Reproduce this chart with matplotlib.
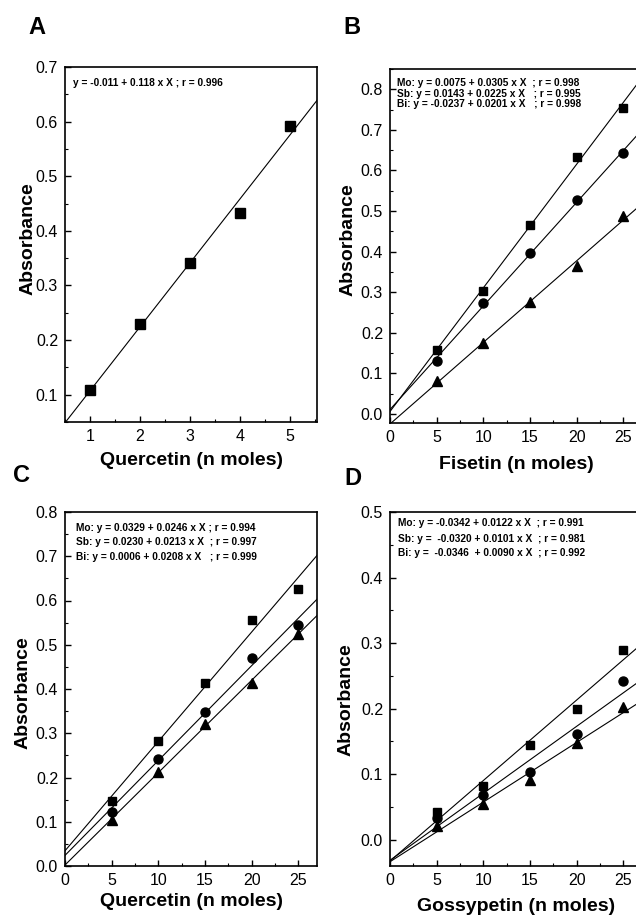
import numpy as np
import matplotlib
matplotlib.use("Agg")
import matplotlib.pyplot as plt
from matplotlib.ticker import MultipleLocator, AutoMinorLocator, FormatStrFormatter

plt.rcParams['font.family'] = ['Liberation Sans', 'DejaVu Sans']

# ---------------- data ----------------
xA = [1, 2, 3, 4, 5]
yA = [0.109, 0.229, 0.342, 0.432, 0.592]

x_nm = [5, 10, 15, 20, 25]
B_mo = [0.159, 0.303, 0.465, 0.634, 0.755]
B_sb = [0.131, 0.273, 0.397, 0.527, 0.642]
B_bi = [0.081, 0.174, 0.277, 0.365, 0.488]

C_mo = [0.146, 0.283, 0.413, 0.557, 0.627]
C_sb = [0.123, 0.242, 0.348, 0.470, 0.545]
C_bi = [0.104, 0.212, 0.322, 0.414, 0.525]

D_mo = [0.042, 0.082, 0.145, 0.200, 0.290]
D_sb = [0.033, 0.069, 0.104, 0.162, 0.242]
D_bi = [0.021, 0.054, 0.091, 0.147, 0.202]

eqA = ["y = -0.011 + 0.118 x X ; r = 0.996"]
eqB = ["Mo: y = 0.0075 + 0.0305 x X  ; r = 0.998",
       "Sb: y = 0.0143 + 0.0225 x X   ; r = 0.995",
       "Bi: y = -0.0237 + 0.0201 x X   ; r = 0.998"]
eqC = ["Mo: y = 0.0329 + 0.0246 x X ; r = 0.994",
       "Sb: y = 0.0230 + 0.0213 x X  ; r = 0.997",
       "Bi: y = 0.0006 + 0.0208 x X   ; r = 0.999"]
eqD = ["Mo: y = -0.0342 + 0.0122 x X  ; r = 0.991",
       "Sb: y =  -0.0320 + 0.0101 x X  ; r = 0.981",
       "Bi: y =  -0.0346  + 0.0090 x X  ; r = 0.992"]

# ---------------- figure ----------------
W, H = 636, 918
fig = plt.figure(figsize=(W / 100, H / 100), dpi=100)


def px_axes(l, r, t, b):
    return fig.add_axes([l / W, (H - b) / H, (r - l) / W, (b - t) / H])


def style(ax, xlim, ylim, xmaj, ymaj, yfmt, xlabel, lab_x, lab_y, xlabpad):
    ax.set_xlim(*xlim)
    ax.set_ylim(*ylim)
    ax.xaxis.set_major_locator(MultipleLocator(xmaj))
    ax.yaxis.set_major_locator(MultipleLocator(ymaj))
    ax.xaxis.set_minor_locator(AutoMinorLocator(2))
    ax.yaxis.set_minor_locator(AutoMinorLocator(2))
    ax.yaxis.set_major_formatter(FormatStrFormatter(yfmt))
    ax.tick_params(which='major', direction='in', length=4, width=1.0,
                   labelsize=11.5)
    ax.tick_params(axis='x', which='major', pad=5)
    ax.tick_params(axis='y', which='major', pad=5)
    ax.tick_params(which='minor', direction='in', length=2, width=0.8)
    for s in ax.spines.values():
        s.set_linewidth(1.2)
    ax.set_xlabel(xlabel, fontsize=14, fontweight='bold', labelpad=xlabpad)
    ax.set_ylabel("Absorbance", fontsize=14, fontweight='bold')
    ax.yaxis.set_label_coords(lab_x, lab_y)


def fit_line(ax, x, y, x0, x1):
    k, b = np.polyfit(x, y, 1)
    xs = np.array([x0, x1])
    ax.plot(xs, b + k * xs, color='black', lw=0.8, zorder=2)


def equations(ax, lines, x0, y0, dy):
    for i, s in enumerate(lines):
        ax.text(x0, y0 - i * dy, s, transform=ax.transAxes, fontsize=7.3,
                fontweight='bold', ha='left', va='center')


# Panel A
axA = px_axes(65, 317, 67, 422)
fit_line(axA, xA, yA, 0.0, 6.0)
axA.plot(xA, yA, 's', color='black', ms=7.5, zorder=3)
style(axA, (0.5, 5.55), (0.05, 0.7), 1, 0.1, '%.1f',
      "Quercetin (n moles)", -0.112, 0.517, 6)
axA.set_xticks(xA)
equations(axA, eqA, 0.032, 0.955, 0.04)

# Panel B
axB = px_axes(390, 642, 69, 423)
for ys in (B_mo, B_sb, B_bi):
    fit_line(axB, x_nm, ys, 0.0, 30.0)
axB.plot(x_nm, B_mo, 's', color='black', ms=6, zorder=3)
axB.plot(x_nm, B_sb, 'o', color='black', ms=6.5, zorder=3)
axB.plot(x_nm, B_bi, '^', color='black', ms=7, zorder=3)
style(axB, (0, 27), (-0.022, 0.85), 5, 0.1, '%.1f',
      "Fisetin (n moles)", -0.134, 0.517, 8)
equations(axB, eqB, 0.028, (423 - 83.5) / 354, 10.3 / 354)

# Panel C
axC = px_axes(65, 317, 512, 866)
for ys in (C_mo, C_sb, C_bi):
    fit_line(axC, x_nm, ys, 0.0, 30.0)
axC.plot(x_nm, C_mo, 's', color='black', ms=6, zorder=3)
axC.plot(x_nm, C_sb, 'o', color='black', ms=6.5, zorder=3)
axC.plot(x_nm, C_bi, '^', color='black', ms=7, zorder=3)
style(axC, (0, 27), (0.0, 0.8), 5, 0.1, '%.1f',
      "Quercetin (n moles)", -0.134, 0.49, 4)
equations(axC, eqC, 0.044, (866 - 528) / 354, 14.3 / 354)

# Panel D
axD = px_axes(390, 642, 512, 866)
for ys in (D_mo, D_sb, D_bi):
    fit_line(axD, x_nm, ys, 0.0, 30.0)
axD.plot(x_nm, D_mo, 's', color='black', ms=6, zorder=3)
axD.plot(x_nm, D_sb, 'o', color='black', ms=6.5, zorder=3)
axD.plot(x_nm, D_bi, '^', color='black', ms=7, zorder=3)
style(axD, (0, 27), (-0.04, 0.5), 5, 0.1, '%.1f',
      "Gossypetin (n moles)", -0.14, 0.47, 7)
equations(axD, eqD, 0.032, (866 - 523.5) / 354, 15 / 354)

# Panel letters
for lab, (px, py) in zip("ABCD", [(37, 27), (352, 27), (22, 476), (353, 479)]):
    fig.text(px / W, 1 - py / H, lab, fontsize=17, fontweight='bold',
             ha='center', va='center')

fig.savefig("out.png", dpi=100)
